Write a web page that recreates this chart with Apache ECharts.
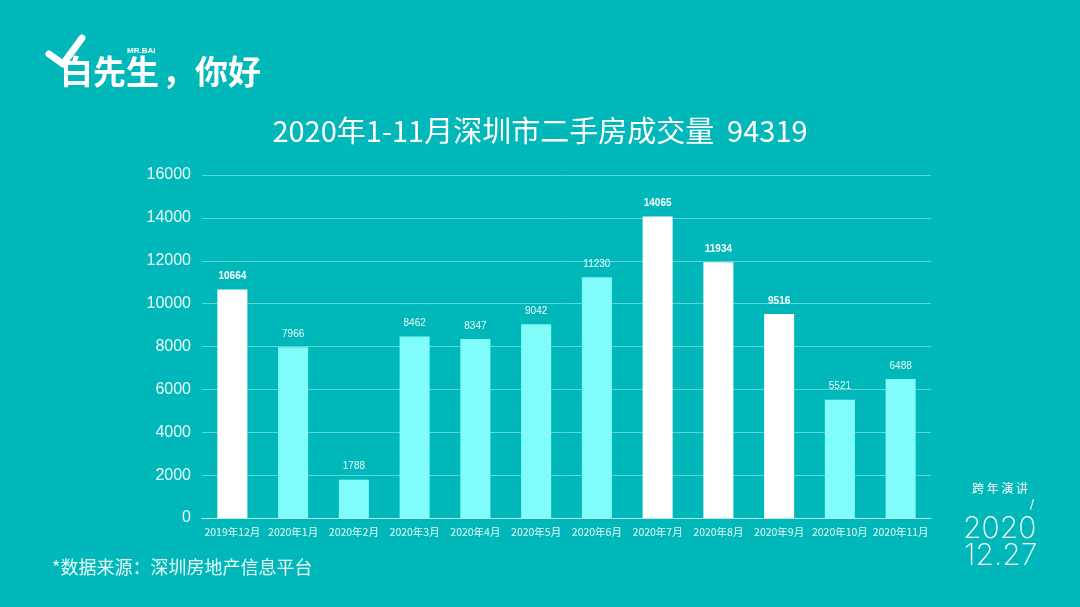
<!DOCTYPE html>
<html><head><meta charset="utf-8">
<script src="https://cdn.jsdelivr.net/npm/echarts@6/dist/echarts.min.js"></script>
<style>html,body{margin:0;padding:0;background:#00b8b9;}#c{width:1080px;height:607px;}</style>
</head><body><div id="c"></div>
<script>
var categories = ['2019年12月','2020年1月','2020年2月','2020年3月','2020年4月','2020年5月','2020年6月','2020年7月','2020年8月','2020年9月','2020年10月','2020年11月'];
var values = [10664, 7966, 1788, 8462, 8347, 9042, 11230, 14065, 11934, 9516, 5521, 6488];
var highlighted = [true, false, false, false, false, false, false, true, true, true, false, false];
var yTicks = [0, 2000, 4000, 6000, 8000, 10000, 12000, 14000, 16000];
var titleText = '2020年1-11月深圳市二手房成交量  94319';
var sourceText = '*数据来源：深圳房地产信息平台';

var font = '"Noto Sans CJK SC", "Noto Sans", sans-serif';
var chart = echarts.init(document.getElementById('c'));
var data = values.map(function(v, i){
  return {
    value: v,
    itemStyle: {color: highlighted[i] ? '#ffffff' : '#80fdfb'},
    label: highlighted[i] ? {fontWeight: 'bold', color: '#ffffff'} : {fontWeight: 'normal', color: '#e8fbfb'}
  };
});
chart.setOption({
  backgroundColor: '#00b8b9',
  textStyle: {fontFamily: font},
  title: {
    text: titleText, left: 'center', top: 111,
    textStyle: {color: '#ffffff', fontSize: 29, fontWeight: 'normal', fontFamily: font}
  },
  grid: {left: 202, right: 149, top: 175, bottom: 89},
  xAxis: {
    type: 'category', data: categories,
    axisLine: {lineStyle: {color: 'rgba(255,255,255,0.55)', width: 1}},
    axisTick: {lineStyle: {color: 'rgba(255,255,255,0.55)'}, length: 4},
    axisLabel: {color: '#e8fbfb', fontSize: 10.5, margin: 9, interval: 0, fontFamily: font}
  },
  yAxis: {
    type: 'value', min: yTicks[0], max: yTicks[yTicks.length-1], interval: 2000,
    axisLine: {show: false}, axisTick: {show: false},
    axisLabel: {color: '#eafcfc', fontSize: 16, margin: 11, fontFamily: '"Liberation Sans", Arial, sans-serif',
      formatter: function(v){ return String(v); }},
    splitLine: {lineStyle: {color: 'rgba(255,255,255,0.38)', width: 1}}
  },
  series: [{
    type: 'bar', data: data, barWidth: 30,
    label: {show: true, position: 'top', fontSize: 10, distance: 8, fontFamily: '"Liberation Sans", Arial, sans-serif'}
  }],
  graphic: [
    {type: 'polyline', shape: {points: [[49,54],[63,64],[82,38]]}, style: {stroke: '#ffffff', lineWidth: 7, fill: null, lineCap: 'round', lineJoin: 'round'}},
    {type: 'text', left: 60, top: 55, style: {text: '白先生', fill: '#ffffff', font: 'bold 33px ' + font}},
    {type: 'text', left: 162, top: 55, style: {text: '，你好', fill: '#ffffff', font: 'bold 33px ' + font}},
    {type: 'text', left: 127, top: 47, style: {text: 'MR.BAI', fill: '#ffffff', font: 'bold 8px "Liberation Sans", Arial, sans-serif'}},
    {type: 'text', left: 52, top: 558, style: {text: sourceText, fill: '#eafcfc', font: '18px ' + font}},
    {type: 'text', left: 972, top: 482, style: {text: '跨 年 演 讲', fill: '#ffffff', font: '12px ' + font}},
    {type: 'text', left: 1030, top: 499, style: {text: '/', fill: '#ffffff', font: '12px "DejaVu Sans", sans-serif'}},
    {type: 'text', left: 963, top: 514, style: {text: '2020', fill: '#ffffff', font: '200 30px Inter, "Noto Sans", sans-serif'}},
    {type: 'text', left: 964, top: 541, style: {text: '12.27', fill: '#ffffff', font: '200 30px Inter, "Noto Sans", sans-serif'}}
  ]
});
</script>
</body></html>
